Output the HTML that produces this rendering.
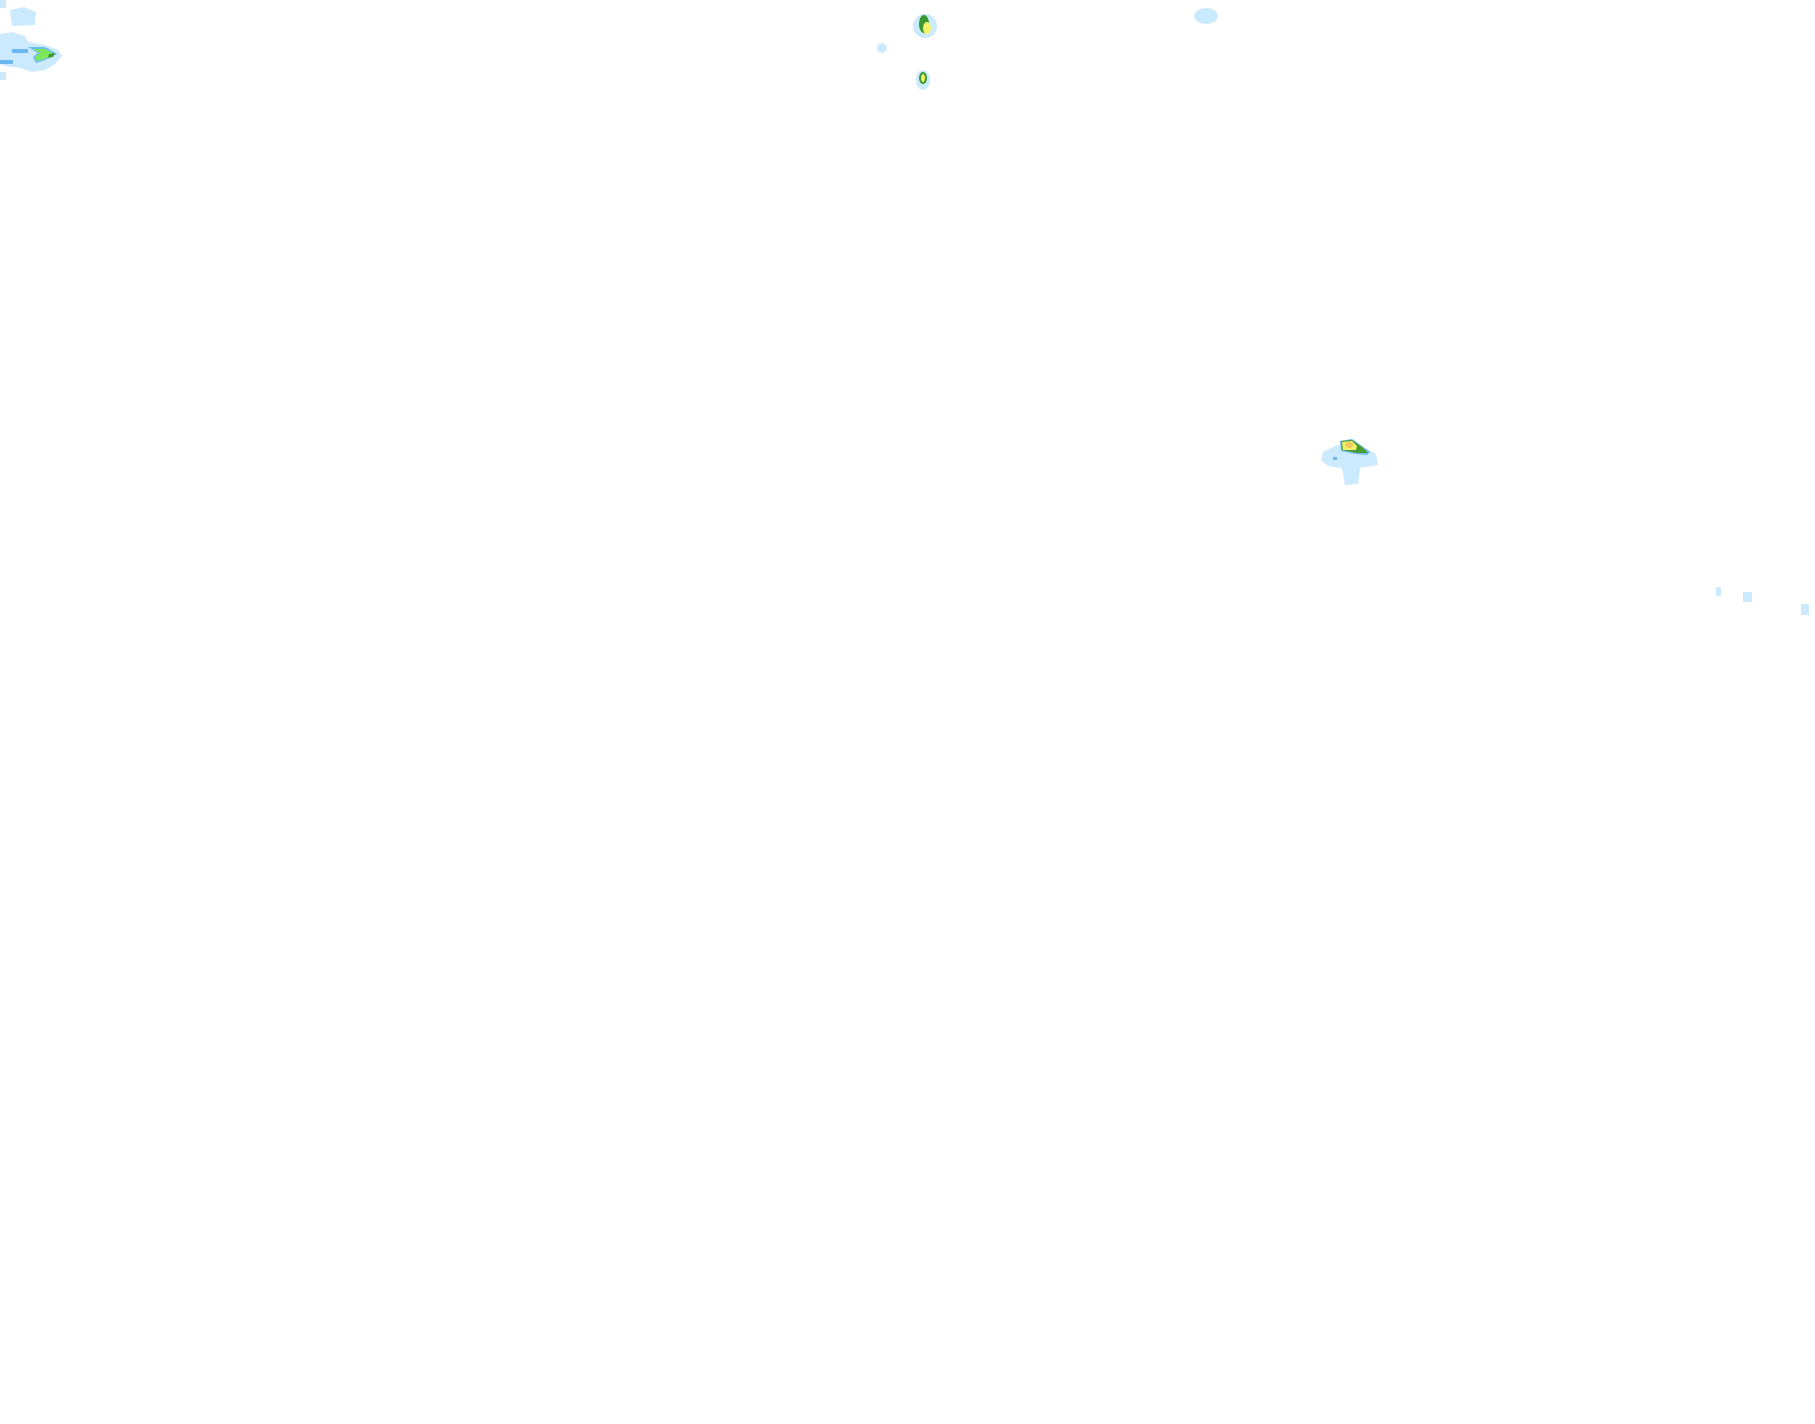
<!DOCTYPE html>
<html><head><style>html,body{margin:0;padding:0;background:#fff;width:1815px;height:1424px;overflow:hidden}</style></head>
<body>
<svg width="1815" height="1424" xmlns="http://www.w3.org/2000/svg">
<g fill="#cbeafd">
<path d="M0,34 L12,32 L25,36 L28,42 L45,45 L58,50 L62,56 L55,64 L45,70 L32,72 L20,68 L5,66 L0,64Z"/>
<path d="M10,10 L24,7 L36,12 L35,25 L12,26 Z"/>
<rect x="0" y="0" width="6" height="8"/>
<rect x="0" y="72" width="6" height="8"/>
<ellipse cx="925" cy="26" rx="12" ry="12"/>
<ellipse cx="923" cy="80" rx="7" ry="10"/>
<ellipse cx="882" cy="48" rx="5" ry="5"/>
<ellipse cx="1206" cy="16" rx="12" ry="8"/>
<path d="M1323,452 L1335,446 L1350,443 L1365,448 L1376,454 L1378,465 L1360,468 L1358,484 L1345,485 L1342,468 L1328,466 L1321,460Z"/>
<rect x="1716" y="587" width="5" height="9"/>
<rect x="1743" y="592" width="9" height="10"/>
<rect x="1801" y="604" width="8" height="11"/>
</g>
<path d="M28,47 L45,47 L57,54 L45,60 L36,63 L33,57 L38,53Z" fill="#6cb8f0"/>
<path d="M33,49 L45,49 L54,54 L44,59 L37,61 L35,57 L40,53Z" fill="#7ee85a"/>
<path d="M49,54 L55,53 L53,57 L48,58Z" fill="#3a9a30"/>
<rect x="12" y="49" width="16" height="4" fill="#6cb8f0"/>
<rect x="0" y="60" width="13" height="4" fill="#6cb8f0"/>
<ellipse cx="924" cy="24" rx="5" ry="9" fill="#3a9a30"/>
<ellipse cx="927" cy="28" rx="4" ry="6" fill="#f3f06a"/>
<ellipse cx="923" cy="78" rx="4" ry="6" fill="#3a9a30"/>
<ellipse cx="923" cy="78" rx="2" ry="4" fill="#f3f06a"/>
<path d="M1340,441 L1352,439 L1362,446 L1370,452 L1367,455 L1356,454 L1341,451Z" fill="#6cb8f0"/>
<path d="M1341,441 L1352,440 L1362,447 L1368,453 L1357,453 L1342,450Z" fill="#4a9e30"/>
<path d="M1342,442 L1352,441 L1357,446 L1356,450 L1343,450Z" fill="#f3f06a"/>
<ellipse cx="1349" cy="445" rx="4" ry="3" fill="#f0c860"/>
<rect x="1333" y="457" width="4" height="3" fill="#6cb8f0"/>
</svg>
</body></html>
